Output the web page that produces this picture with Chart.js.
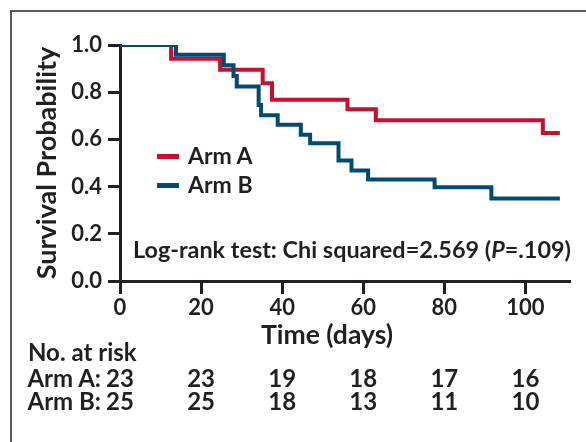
<!DOCTYPE html>
<html>
<head>
<meta charset="utf-8">
<script src="https://cdn.jsdelivr.net/npm/chart.js@4.4.1/dist/chart.umd.min.js"></script>
<style>
html,body{margin:0;padding:0;background:#fff;}
#wrap{position:relative;width:586px;height:442px;overflow:hidden;background:#fff;}
#frame{position:absolute;left:10px;top:10px;width:800px;height:800px;border-left:2px solid #5b5c5e;border-top:2px solid #5b5c5e;}
#c{position:absolute;left:0;top:0;}
.t{position:absolute;white-space:nowrap;font-family:Lato,sans-serif;font-weight:bold;color:#231f20;}
.key{position:absolute;height:5px;}
</style>
</head>
<body>
<div id="wrap">
  <div id="frame"></div>
  <canvas id="c" width="586" height="442"></canvas>
</div>
<script>
// ---- data ----
const armATimes = [0, 12.6, 24.7, 35.2, 37.5, 56.1, 63.1, 104.3, 108.5];
const armASurv  = [1.0, 0.942, 0.895, 0.838, 0.768, 0.728, 0.681, 0.627, 0.627];
const armBTimes = [0, 13.8, 25.6, 28.0, 28.8, 34.2, 34.8, 38.9, 44.6, 46.9, 53.9, 57.1, 61.2, 77.6, 91.6, 108.5];
const armBSurv  = [1.0, 0.959, 0.914, 0.869, 0.824, 0.746, 0.702, 0.662, 0.620, 0.584, 0.511, 0.468, 0.430, 0.397, 0.350, 0.350];
const xTickValues = [0, 20, 40, 60, 80, 100];
const yTickValues = [0, 0.2, 0.4, 0.6, 0.8, 1.0];
const riskTimes = [0, 20, 40, 60, 80, 100];
const riskArmA = [23, 23, 19, 18, 17, 16];
const riskArmB = [25, 25, 18, 13, 11, 10];
const seriesNames = ['Arm A', 'Arm B'];

const RED = '#c8102e';
const BLUE = '#004b74';
const INK = '#231f20';
const FONT = 'Lato';

const toPts = (ts, ss) => ts.map((t, i) => ({x: t, y: ss[i]}));

const chart = new Chart(document.getElementById('c'), {
  type: 'line',
  data: {
    datasets: [
      {label: seriesNames[1], data: toPts(armBTimes, armBSurv), borderColor: BLUE, borderWidth: 4, stepped: 'before', pointRadius: 0, fill: false, order: 0},
      {label: seriesNames[0], data: toPts(armATimes, armASurv), borderColor: RED, borderWidth: 4, stepped: 'before', pointRadius: 0, fill: false, order: 1}
    ]
  },
  options: {
    responsive: false,
    animation: false,
    events: [],
    layout: {padding: {top: 45, right: 16, bottom: 0, left: 0}},
    plugins: {legend: {display: false}, tooltip: {enabled: false}},
    scales: {
      x: {
        type: 'linear', min: 0, max: 111,
        afterBuildTicks: s => { s.ticks = xTickValues.map(v => ({value: v})); },
        afterFit: s => { s.height = 161; },
        ticks: {color: INK, font: {family: FONT, weight: 'bold', size: 22}, padding: 1, maxRotation: 0},
        grid: {drawOnChartArea: false, drawTicks: true, tickLength: 13, tickWidth: 3, tickColor: INK},
        border: {display: true, color: INK, width: 3}
      },
      y: {
        min: 0, max: 1,
        afterBuildTicks: s => { s.ticks = yTickValues.map(v => ({value: v})); },
        afterFit: s => { s.width = 120; },
        ticks: {color: INK, font: {family: FONT, weight: 'bold', size: 22}, padding: 6, callback: v => Number(v).toFixed(1)},
        grid: {drawOnChartArea: false, drawTicks: true, tickLength: 12, tickWidth: 3, tickColor: INK},
        border: {display: true, color: INK, width: 3},
        title: {display: true, text: 'Survival Probability', color: INK, font: {family: FONT, weight: 'bold', size: 27}, padding: {top: 31, bottom: 0}}
      }
    }
  }
});

// ---- HTML text overlays ----
const wrap = document.getElementById('wrap');
const mctx = document.createElement('canvas').getContext('2d');
function place(html, x, baseline, size, align) {
  mctx.font = 'bold ' + size + 'px ' + FONT;
  const m = mctx.measureText('Hg');
  const asc = m.fontBoundingBoxAscent, desc = m.fontBoundingBoxDescent;
  const d = document.createElement('div');
  d.className = 't';
  d.innerHTML = html;
  d.style.fontSize = size + 'px';
  d.style.lineHeight = (asc + desc) + 'px';
  d.style.top = (baseline - asc) + 'px';
  d.style.left = x + 'px';
  if (align === 'center') d.style.transform = 'translateX(-50%)';
  if (align === 'right') d.style.transform = 'translateX(-100%)';
  wrap.appendChild(d);
  return d;
}
function key(color, x, y) {
  const k = document.createElement('div');
  k.className = 'key';
  k.style.background = color;
  k.style.left = x + 'px';
  k.style.top = (y - 2.5) + 'px';
  k.style.width = '22px';
  wrap.appendChild(k);
}

const xs = chart.scales.x;
// legend
key(RED, 157, 156);
key(BLUE, 157, 185);
place(seriesNames[0], 188, 164, 23, 'left');
place(seriesNames[1], 188, 193, 23, 'left');
// statistic
place('Log-rank test: Chi squared=2.569 (<i>P</i>=.109)', 133, 258, 23.4, 'left');
// x title
place('Time (days)', 327, 344, 26.5, 'center');
// risk table
place('No. at risk', 28, 361, 24, 'left');
place(seriesNames[0] + ':', 101, 387, 24, 'right');
place(seriesNames[1] + ':', 101, 410, 24, 'right');
riskTimes.forEach((t, i) => {
  const px = xs.getPixelForValue(t);
  place(String(riskArmA[i]), px, 387, 24, 'center');
  place(String(riskArmB[i]), px, 410, 24, 'center');
});
</script>
</body>
</html>
